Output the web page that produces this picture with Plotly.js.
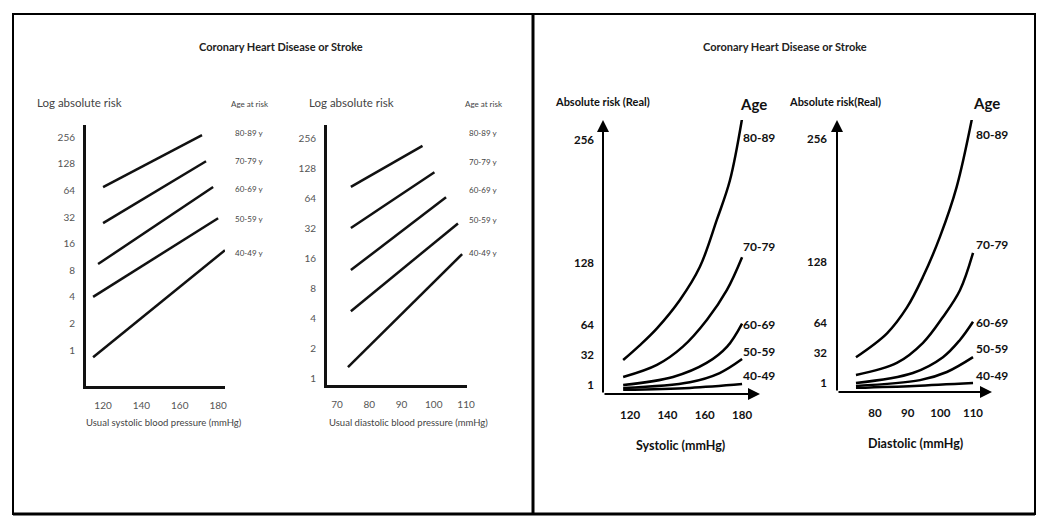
<!DOCTYPE html>
<html>
<head>
<meta charset="utf-8">
<script src="https://cdn.plot.ly/plotly-3.0.1.min.js"></script>
<style>
html,body{margin:0;padding:0;background:#fff;}
#chart{width:1050px;height:527px;}
</style>
</head>
<body>
<div id="chart"></div>
<script>
// ---------------- DATA ----------------
const ageGroups = ['40-49', '50-59', '60-69', '70-79', '80-89'];
const ageLabelsLog = ['40-49 y', '50-59 y', '60-69 y', '70-79 y', '80-89 y'];
const ageLabelsReal = ['40-49', '50-59', '60-69', '70-79', '80-89'];
const panelTitle = 'Coronary Heart Disease or Stroke';

// Left panel, systolic (log scale): straight lines start/end
const sbpLogXStart = [114.8, 114.8, 117.4, 120, 120];
const sbpLogXEnd = [183.6, 180, 177.4, 173.7, 171.6];
const sbpLogRiskStart = [0.83, 4.0, 9.4, 27.3, 70];
const sbpLogRiskEnd = [13.5, 31, 70, 137, 271];

// Left panel, diastolic (log scale)
const dbpLogXStart = [73.4, 74.3, 74.3, 74.3, 74.3];
const dbpLogXEnd = [108.8, 107.5, 103.8, 100.2, 96.5];
const dbpLogRiskStart = [1.29, 4.7, 12.2, 32.4, 84];
const dbpLogRiskEnd = [17.7, 36, 66, 118, 217];

const logTicks = [1, 2, 4, 8, 16, 32, 64, 128, 256];
const sbpTicks = [120, 140, 160, 180];
const dbpLogTicks = [70, 80, 90, 100, 110];

// Right panel, systolic (real scale) curves
const sbpRealX = [
  [116.3, 152, 180],
  [116.3, 152, 168, 180],
  [116.3, 143, 161, 172, 180],
  [116.3, 134.4, 148.3, 161.2, 171.9, 180],
  [116.3, 125, 134.4, 146.7, 157.4, 166.5, 173.5, 179.9]
];
const sbpRealRisk = [
  [-4, -2, 2],
  [-2, 4, 13.5, 28],
  [1, 9.4, 24, 41, 65],
  [9.4, 22, 41, 69, 100, 134],
  [27, 42, 60, 89.5, 124, 173, 214, 277]
];

// Right panel, diastolic (real scale) curves
const dbpRealX = [
  [74.2, 92, 110],
  [74.2, 93.8, 102, 110],
  [74.2, 91.6, 100.8, 106, 110],
  [74.2, 86.7, 94.7, 100.8, 106, 110],
  [74.2, 83.7, 89.8, 94.7, 99.9, 105, 110.3]
];
const dbpRealRisk = [
  [-4, -2, 1],
  [-2, 4, 12.5, 28],
  [1, 11.5, 28, 46, 65],
  [9.4, 22, 43, 70, 98, 137],
  [28, 53, 80, 112, 154, 206, 288]
];

const realTicks = [1, 32, 64, 128, 256];
const dbpRealTicks = [80, 90, 100, 110];

// ---------------- HELPERS ----------------
const W = 1050, H = 527;
const X = px => px / W;
const Y = py => 1 - py / H;
const FONT = 'Lato, "Open Sans", sans-serif';

const traces = [];
ageGroups.forEach((g, i) => {
  traces.push({x: [sbpLogXStart[i], sbpLogXEnd[i]], y: [sbpLogRiskStart[i], sbpLogRiskEnd[i]],
    xaxis: 'x', yaxis: 'y', mode: 'lines', name: g, line: {color: '#111', width: 2.5}, showlegend: false});
  traces.push({x: [dbpLogXStart[i], dbpLogXEnd[i]], y: [dbpLogRiskStart[i], dbpLogRiskEnd[i]],
    xaxis: 'x2', yaxis: 'y2', mode: 'lines', name: g, line: {color: '#111', width: 2.5}, showlegend: false});
  traces.push({x: sbpRealX[i], y: sbpRealRisk[i], xaxis: 'x3', yaxis: 'y3', mode: 'lines', name: g,
    line: {color: '#000', width: 2.5, shape: 'spline', smoothing: 1}, showlegend: false});
  traces.push({x: dbpRealX[i], y: dbpRealRisk[i], xaxis: 'x4', yaxis: 'y4', mode: 'lines', name: g,
    line: {color: '#000', width: 2.5, shape: 'spline', smoothing: 1}, showlegend: false});
});

const leftTick = {family: FONT, size: 10, color: '#555'};
const rightTick = {family: FONT, size: 11.5, color: '#111', weight: 700};

const baseAxis = {showgrid: false, zeroline: false, ticks: '', fixedrange: true};

const layout = {
  width: W, height: H,
  margin: {l: 0, r: 0, t: 0, b: 0, pad: 0},
  paper_bgcolor: '#fff', plot_bgcolor: 'rgba(0,0,0,0)',
  showlegend: false,
  font: {family: FONT},
  xaxis: Object.assign({}, baseAxis, {domain: [X(86), X(225)], range: [111.1, 183.6], anchor: 'y',
    showline: true, linecolor: '#111', linewidth: 3, tickmode: 'array', tickvals: sbpTicks,
    tickfont: leftTick, ticklabelstandoff: 8}),
  yaxis: Object.assign({}, baseAxis, {domain: [Y(386), Y(125)], type: 'log', range: [-0.407, 2.547], anchor: 'x',
    showline: true, linecolor: '#111', linewidth: 3, tickmode: 'array', tickvals: logTicks,
    ticktext: logTicks.map(String), tickfont: leftTick, ticklabelstandoff: 6}),
  xaxis2: Object.assign({}, baseAxis, {domain: [X(327), X(467)], range: [66.9, 110.3], anchor: 'y2',
    showline: true, linecolor: '#111', linewidth: 3, tickmode: 'array', tickvals: dbpLogTicks,
    tickfont: leftTick, ticklabelstandoff: 8}),
  yaxis2: Object.assign({}, baseAxis, {domain: [Y(385), Y(125)], type: 'log', range: [-0.0704, 2.547], anchor: 'x2',
    showline: true, linecolor: '#111', linewidth: 3, tickmode: 'array', tickvals: logTicks,
    ticktext: logTicks.map(String), tickfont: leftTick, ticklabelstandoff: 6}),
  xaxis3: Object.assign({}, baseAxis, {domain: [X(603), X(760)], range: [105.5, 189.6], anchor: 'y3',
    showline: false, tickmode: 'array', tickvals: sbpTicks, tickfont: rightTick, ticklabelstandoff: 12}),
  yaxis3: Object.assign({}, baseAxis, {domain: [Y(394), Y(120)], range: [-8.3, 276.7], anchor: 'x3',
    showline: false, tickmode: 'array', tickvals: realTicks, tickfont: rightTick, ticklabelstandoff: 8}),
  xaxis4: Object.assign({}, baseAxis, {domain: [X(837), X(992)], range: [68.4, 115.8], anchor: 'y4',
    showline: false, tickmode: 'array', tickvals: dbpRealTicks, tickfont: rightTick, ticklabelstandoff: 12}),
  yaxis4: Object.assign({}, baseAxis, {domain: [Y(392), Y(120)], range: [-8.4, 275.9], anchor: 'x4',
    showline: false, tickmode: 'array', tickvals: realTicks, tickfont: rightTick, ticklabelstandoff: 9}),
  shapes: [
    {type: 'rect', xref: 'paper', yref: 'paper', x0: X(13), x1: X(1035), y0: Y(514), y1: Y(14),
      line: {color: '#000', width: 2}, fillcolor: 'rgba(0,0,0,0)'},
    {type: 'line', xref: 'paper', yref: 'paper', x0: X(13), x1: X(1035), y0: Y(514), y1: Y(514),
      line: {color: '#000', width: 3}},
    {type: 'line', xref: 'paper', yref: 'paper', x0: X(533), x1: X(533), y0: Y(514), y1: Y(14),
      line: {color: '#000', width: 3}}
  ],
  annotations: []
};

const ann = layout.annotations;
function txt(text, px, py, opts) {
  ann.push(Object.assign({text: text, xref: 'paper', yref: 'paper', x: X(px), y: Y(py),
    showarrow: false, xanchor: 'center', yanchor: 'middle'}, opts));
}
function arrow(headPx, headPy, ax, ay) {
  ann.push({text: '', xref: 'paper', yref: 'paper', x: X(headPx), y: Y(headPy), ax: ax, ay: ay,
    showarrow: true, arrowhead: 2, arrowsize: 1.2, arrowwidth: 2, arrowcolor: '#000', standoff: 0});
}

const titleFont = {family: FONT, size: 11, color: '#222', weight: 700};
txt(panelTitle, 281, 46, {font: titleFont});
txt(panelTitle, 785, 46, {font: titleFont});

const leftLabelFont = {family: FONT, size: 11.5, color: '#444'};
const smallFont = {family: FONT, size: 8, color: '#444'};
const leftXTitleFont = {family: FONT, size: 9.5, color: '#444'};

// Subplot 1 texts
txt('Log absolute risk', 35, 102, {xanchor: 'left', font: leftLabelFont});
txt('Age at risk', 250, 104, {font: smallFont});
const logLabelY1 = [253, 219, 189, 161, 133];
ageLabelsLog.forEach((t, i) => txt(t, 233, logLabelY1[i], {xanchor: 'left', font: smallFont}));
txt('Usual systolic blood pressure (mmHg)', 164, 422, {font: leftXTitleFont});

// Subplot 2 texts
txt('Log absolute risk', 307, 102, {xanchor: 'left', font: leftLabelFont});
txt('Age at risk', 484, 104, {font: smallFont});
const logLabelY2 = [253, 220, 190, 162, 133];
ageLabelsLog.forEach((t, i) => txt(t, 467, logLabelY2[i], {xanchor: 'left', font: smallFont}));
txt('Usual diastolic blood pressure (mmHg)', 408, 422, {font: leftXTitleFont});

// Subplot 3 texts
const rLabel = {family: FONT, size: 11, color: '#111', weight: 700};
const ageHead = {family: FONT, size: 15, color: '#111', weight: 700};
const ageLbl = {family: FONT, size: 12, color: '#111', weight: 700};
const rXTitle = {family: FONT, size: 12.5, color: '#111', weight: 700};
txt('Absolute risk (Real)', 553, 101, {xanchor: 'left', font: rLabel});
txt('Age', 753, 104, {font: ageHead});
const realLabelY3 = [375, 351, 324, 246, 137];
ageLabelsReal.forEach((t, i) => txt(t, 741, realLabelY3[i], {xanchor: 'left', font: ageLbl}));
txt('Systolic (mmHg)', 680, 445, {font: rXTitle});
arrow(603, 120, 0, 274);
arrow(760, 394, -157, 0);

// Subplot 4 texts
txt('Absolute risk(Real)', 787, 101, {xanchor: 'left', font: rLabel});
txt('Age', 986, 103, {font: ageHead});
const realLabelY4 = [375, 348, 322, 245, 135];
ageLabelsReal.forEach((t, i) => txt(t, 974, realLabelY4[i], {xanchor: 'left', font: ageLbl}));
txt('Diastolic (mmHg)', 915, 443, {font: rXTitle});
arrow(837, 120, 0, 272);
arrow(992, 392, -155, 0);

Plotly.newPlot('chart', traces, layout, {staticPlot: true, displayModeBar: false});
</script>
</body>
</html>
